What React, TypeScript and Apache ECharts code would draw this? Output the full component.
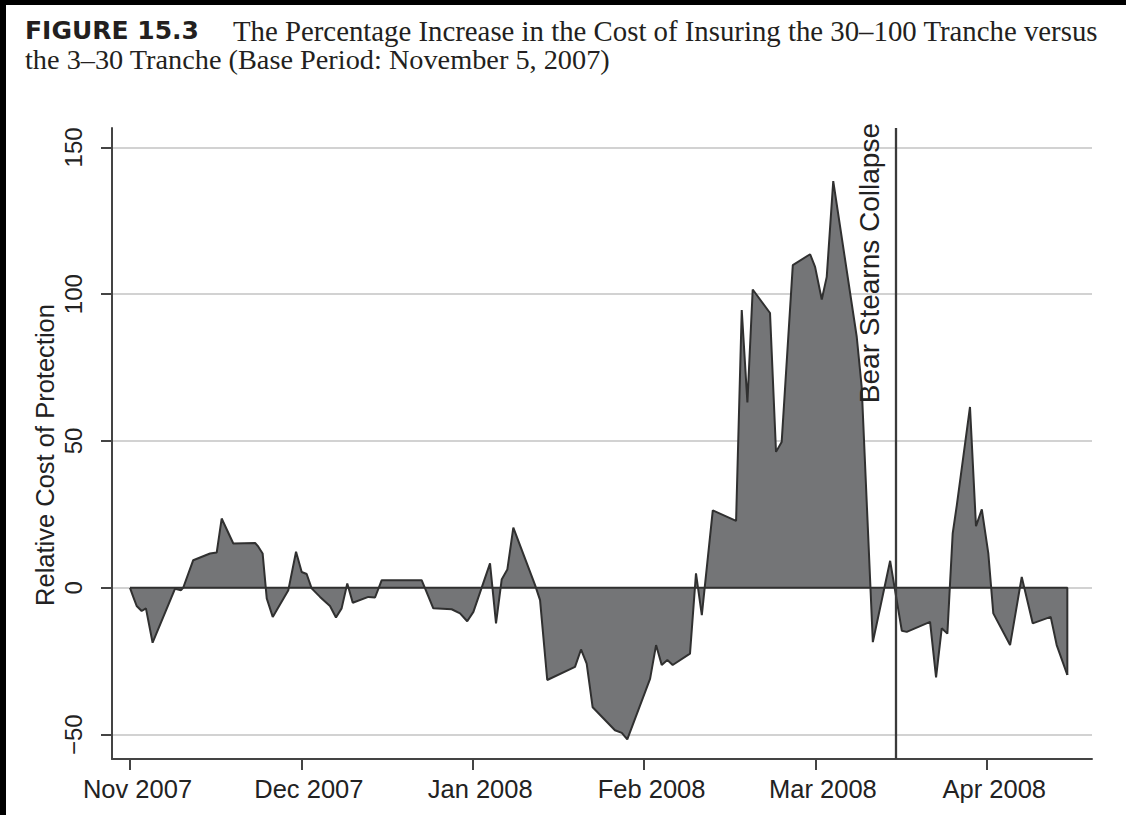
import React, { useEffect, useRef } from "react";
import * as echarts from "echarts";

// ---- data ----
const monthLabels = ["Nov 2007", "Dec 2007", "Jan 2008", "Feb 2008", "Mar 2008", "Apr 2008"];
const monthTicks = [0, 1, 2, 3, 4, 5];
const yTicks = [-50, 0, 50, 100, 150];
const bearStearnsPos = 4.475; // position of the "Bear Stearns Collapse" marker (months since Nov 2007)

// position along the time axis, in months since start of Nov 2007
const monthPos = [
  0.0, 0.019, 0.039, 0.068, 0.093, 0.132, 0.263, 0.298, 0.311, 0.369,
  0.467, 0.506, 0.535, 0.603, 0.73, 0.749, 0.774, 0.798, 0.833, 0.924,
  0.969, 1.002, 1.031, 1.06, 1.109, 1.167, 1.202, 1.235, 1.268, 1.3,
  1.391, 1.43, 1.469, 1.702, 1.722, 1.77, 1.877, 1.926, 1.968, 2.004,
  2.101, 2.136, 2.169, 2.202, 2.237, 2.364, 2.393, 2.435, 2.597, 2.632,
  2.665, 2.7, 2.83, 2.87, 2.902, 3.035, 3.07, 3.103, 3.136, 3.167,
  3.268, 3.303, 3.337, 3.401, 3.537, 3.57, 3.603, 3.634, 3.735, 3.77,
  3.803, 3.868, 3.969, 3.998, 4.037, 4.066, 4.104, 4.241, 4.27, 4.335,
  4.436, 4.504, 4.533, 4.669, 4.704, 4.737, 4.77, 4.801, 4.825, 4.902,
  4.937, 4.971, 5.009, 5.038, 5.136, 5.204, 5.268, 5.373, 5.408, 5.47,
];

// relative cost of protection (%)
const relCost = [
  0, -3.1, -6.2, -7.9, -7.0, -18.7, -0.3, -0.8, 0.1, 9.4,
  11.7, 12.0, 23.6, 15.1, 15.3, 14.0, 11.7, -3.6, -9.9, -0.8,
  12.3, 5.4, 4.7, -0.2, -3.1, -6.2, -10.1, -7.0, 1.5, -5.1,
  -3.1, -3.3, 2.6, 2.6, -0.2, -7.0, -7.3, -8.7, -11.4, -8.2,
  8.3, -12.1, 2.8, 6.2, 20.5, 0.9, -4.2, -31.4, -26.9, -21.0,
  -25.8, -40.7, -48.5, -49.4, -51.6, -31.0, -19.5, -26.3, -24.6, -26.3,
  -22.4, 4.9, -9.3, 26.4, 22.8, 94.6, 63.1, 101.6, 93.6, 46.3,
  49.7, 109.9, 113.6, 109.3, 98.2, 105.9, 138.5, 85.5, 68.4, -18.5,
  9.2, -14.6, -15.0, -11.6, -30.5, -13.8, -15.6, 18.5, 28.1, 61.6,
  21.0, 26.7, 11.7, -8.7, -19.5, 3.7, -12.1, -9.9, -19.5, -29.7,
];

const X_MIN = -0.105;
const X_MAX = 5.614;
const Y_MIN = -58.3;
const Y_MAX = 156.6;

const SANS = "'Liberation Sans', Arial, Helvetica, sans-serif";
const SERIF = "'Liberation Serif', 'Times New Roman', serif";

export default function App() {
  const ref = useRef<HTMLDivElement>(null);

  useEffect(() => {
    if (!ref.current) return;
    const chart = echarts.init(ref.current, null, { renderer: "svg" });
    const seriesData = monthPos.map((t, i) => [t, relCost[i]]);
    const n = monthPos.length;
    const closeData = [
      [monthPos[n - 1], relCost[n - 1]],
      [monthPos[n - 1], 0],
      [monthPos[0], 0],
    ];
    const axisColor = "#444";
    const textColor = "#222";

    chart.setOption({
      animation: false,
      backgroundColor: "#ffffff",
      grid: { left: 106, top: 123, right: 34, bottom: 56, containLabel: false },
      xAxis: {
        type: "value",
        min: X_MIN,
        max: X_MAX,
        axisLine: { show: true, onZero: false, lineStyle: { color: axisColor, width: 2 } },
        axisTick: { show: true, customValues: monthTicks, length: 11, lineStyle: { color: axisColor, width: 2 } },
        axisLabel: {
          customValues: monthTicks,
          formatter: (v: number) => monthLabels[Math.round(v)] ?? "",
          fontSize: 25.5,
          color: textColor,
          fontFamily: SANS,
          margin: 17,
          padding: [0, 0, 0, 15],
        },
        splitLine: { show: false },
      },
      yAxis: {
        type: "value",
        min: Y_MIN,
        max: Y_MAX,
        axisLine: { show: true, onZero: false, lineStyle: { color: axisColor, width: 2 } },
        axisTick: { show: true, customValues: yTicks, length: 11, lineStyle: { color: axisColor, width: 2 } },
        axisLabel: {
          customValues: yTicks,
          rotate: 90,
          formatter: (v: number) => (v < 0 ? "\u2212" + Math.abs(v) : String(v)),
          fontSize: 24,
          color: textColor,
          fontFamily: SANS,
          margin: 27,
        },
        splitLine: { show: false },
      },
      series: [
        {
          type: "line",
          data: [[monthPos[0], 0]],
          symbol: "none",
          lineStyle: { width: 0, opacity: 0 },
          silent: true,
          z: 0,
          markLine: {
            silent: true,
            z: 0,
            symbol: "none",
            label: { show: false },
            lineStyle: { color: "#d2d2d2", width: 2, type: "solid" },
            data: yTicks.map((v) => ({ yAxis: v })),
          },
        },
        {
          type: "line",
          data: seriesData,
          symbol: "none",
          silent: true,
          lineStyle: { color: "#303030", width: 2 },
          areaStyle: { color: "#747577", opacity: 1, origin: 0 },
          z: 2,
        },
        {
          type: "line",
          data: closeData,
          symbol: "none",
          silent: true,
          lineStyle: { color: "#303030", width: 2 },
          z: 3,
          markLine: {
            silent: true,
            z: 4,
            symbol: "none",
            label: { show: false },
            lineStyle: { color: "#3a3a3a", width: 2.3, type: "solid" },
            data: [{ xAxis: bearStearnsPos }],
          },
        },
      ],
    });

    const top = chart.convertToPixel({ xAxisIndex: 0, yAxisIndex: 0 }, [bearStearnsPos, Y_MAX]) as number[];

    chart.setOption({
      graphic: [
        {
          type: "text",
          x: 19,
          y: 25.5,
          style: {
            text: "FIGURE 15.3",
            font: "bold 25px 'DejaVu Sans', sans-serif",
            fill: "#231f20",
            textAlign: "left",
            textVerticalAlign: "middle",
          },
        },
        {
          type: "text",
          x: 227,
          y: 25.5,
          style: {
            text: "The Percentage Increase in the Cost of Insuring the 30\u2013100 Tranche versus",
            font: "28.8px " + SERIF,
            fill: "#231f20",
            textAlign: "left",
            textVerticalAlign: "middle",
          },
        },
        {
          type: "text",
          x: 19,
          y: 54,
          style: {
            text: "the 3\u201330 Tranche (Base Period: November 5, 2007)",
            font: "28.3px " + SERIF,
            fill: "#231f20",
            textAlign: "left",
            textVerticalAlign: "middle",
          },
        },
        {
          type: "text",
          x: 39,
          y: 450,
          rotation: Math.PI / 2,
          style: {
            text: "Relative Cost of Protection",
            font: "25.5px " + SANS,
            fill: textColor,
            textAlign: "center",
            textVerticalAlign: "middle",
          },
        },
        {
          type: "text",
          x: top[0] - 13,
          y: top[1] - 5,
          rotation: Math.PI / 2,
          z: 10,
          style: {
            text: "Bear Stearns Collapse",
            font: "28px " + SANS,
            fill: textColor,
            textAlign: "right",
            textVerticalAlign: "bottom",
          },
        },
      ],
    });

    return () => chart.dispose();
  }, []);

  return (
    <div style={{ position: "fixed", left: 0, top: 0, width: 1126, height: 815, background: "#000" }}>
      <div ref={ref} style={{ position: "absolute", left: 6, top: 5, width: 1120, height: 810 }} />
    </div>
  );
}
